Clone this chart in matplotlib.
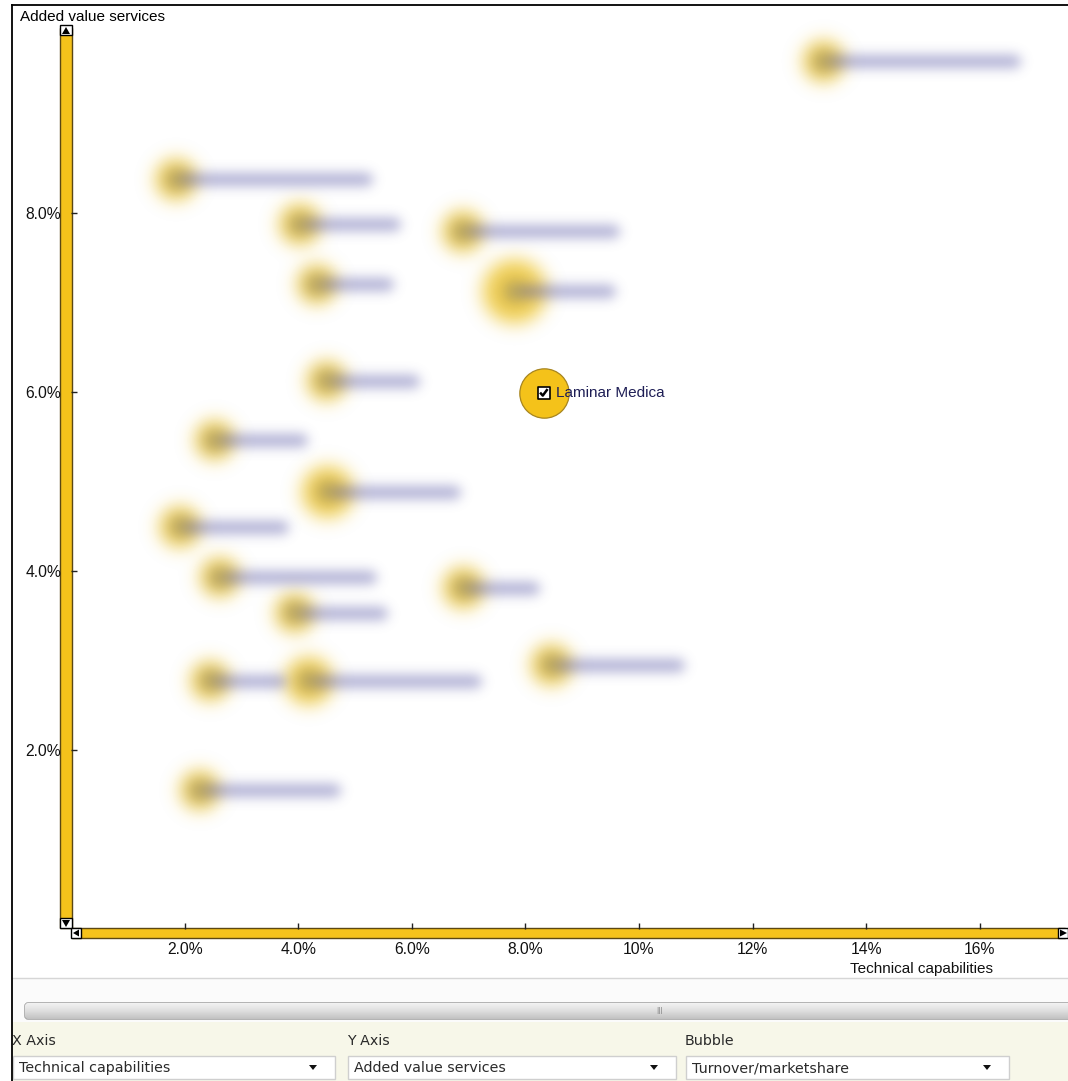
import numpy as np
import matplotlib
matplotlib.use("Agg")
import matplotlib.pyplot as plt
from matplotlib.patches import Rectangle, FancyBboxPatch, Polygon
from matplotlib.collections import LineCollection
from matplotlib.colors import LinearSegmentedColormap

# ---------------- data ----------------
tech_capabilities = [13.25, 1.85, 4.03, 6.90, 4.33, 7.81, 8.32, 4.50, 2.53,
                     4.52, 1.92, 2.62, 6.91, 3.94, 8.46, 2.45, 4.19, 2.27]
added_value = [9.69, 8.37, 7.87, 7.79, 7.20, 7.12, 5.99, 6.12, 5.46,
               4.88, 4.49, 3.93, 3.81, 3.53, 2.95, 2.77, 2.77, 1.55]
turnover = [1.1, 1.1, 1.1, 1.1, 1.0, 2.7, 1.6, 1.0, 1.0,
            1.75, 1.1, 1.0, 1.1, 1.0, 1.1, 1.0, 1.5, 1.0]
company_names = [None, None, None, None, None, None, "Laminar Medica", None, None,
                 None, None, None, None, None, None, None, None, None]
hidden_name_len = [23, 23, 11, 18, 8, 11, 14, 10, 10,
                   15, 12, 18, 8, 10, 15, 8, 20, 16]
x_ticks = [2, 4, 6, 8, 10, 12, 14, 16]
x_tick_labels = ["2.0%", "4.0%", "6.0%", "8.0%", "10%", "12%", "14%", "16%"]
y_ticks = [2, 4, 6, 8]
y_tick_labels = ["2.0%", "4.0%", "6.0%", "8.0%"]
x_axis_title = "Technical capabilities"
y_axis_title = "Added value services"
bubble_title = "Turnover/marketshare"

# ---------------- helpers ----------------
def make_blur(sigma):
    def filt(im, dpi):
        pad = int(np.ceil(3 * sigma))
        im = np.pad(im, ((pad, pad), (pad, pad), (0, 0)))
        a = im[..., 3:4]
        pm = np.concatenate([im[..., :3] * a, a], axis=-1)
        offs = np.arange(-pad, pad + 1)
        k = np.exp(-0.5 * (offs / sigma) ** 2)
        k /= k.sum()
        for axis in (0, 1):
            out = np.zeros_like(pm)
            for o, w in zip(offs, k):
                out += w * np.roll(pm, o, axis=axis)
            pm = out
        alpha = np.clip(pm[..., 3:4], 0, 1)
        rgb = np.where(alpha > 1e-6, pm[..., :3] / np.maximum(alpha, 1e-6), 1.0)
        res = np.concatenate([np.clip(rgb, 0, 1), alpha], axis=-1)
        return res, -pad, -pad
    return filt

W, H = 1068, 1081
fig = plt.figure(figsize=(W / 100, H / 100), dpi=100)
fig.patch.set_facecolor("white")

# ---------------- background / UI layer (pixel coords) ----------------
bg = fig.add_axes([0, 0, 1, 1], zorder=0)
bg.set_xlim(0, W)
bg.set_ylim(H, 0)
bg.axis("off")

bg.add_patch(Rectangle((12, 979), W - 12, 44, facecolor="#fbfbfb", edgecolor="none"))
bg.plot([12, W], [978, 978], color="#d6d6d6", lw=1)
bg.add_patch(Rectangle((12, 1022), W - 12, H - 1022, facecolor="#F7F7E9", edgecolor="none"))

# scrollbar
sb = FancyBboxPatch((25, 1003), 1060, 16, boxstyle="round,pad=0,rounding_size=3",
                    facecolor="#dcdcdc", edgecolor="#969696", lw=1)
bg.add_patch(sb)
grad = np.linspace(0, 1, 30).reshape(-1, 1)
cm = LinearSegmentedColormap.from_list("sb", ["#f2f2f2", "#dedede", "#c2c2c2"])
im = bg.imshow(grad, extent=[25, 1085, 1019, 1003], aspect="auto", cmap=cm, zorder=2)
im.set_clip_path(sb)
bg.text(660, 1012, "III", fontsize=5.5, color="#8a8a8a", ha="center", va="center",
        family="DejaVu Sans", zorder=3)

# borders
bg.plot([12, 12], [5, H], color="black", lw=1.3, zorder=5)
bg.plot([12, W], [5, 5], color="black", lw=1.3, zorder=5)

# combo boxes
ui_font = "DejaVu Sans"
combo = [(13, 335, "X Axis", x_axis_title), (348, 676, "Y Axis", y_axis_title),
         (686, 1009, "Bubble", bubble_title)]
for x0, x1, lab, val in combo:
    bg.text(x0 - 1, 1041, lab, fontsize=10.3, color="#2a2a2a", va="center", ha="left",
            family=ui_font)
    bg.add_patch(Rectangle((x0, 1056), x1 - x0, 23, facecolor="white",
                           edgecolor="#cfcfcf", lw=1))
    bg.text(x0 + 6, 1068, val, fontsize=10.3, color="#2a2a2a", va="center", ha="left",
            family=ui_font)
    cx = x1 - 22
    bg.add_patch(Polygon([(cx - 4, 1065), (cx + 4, 1065), (cx, 1070)],
                         closed=True, facecolor="#111111", edgecolor="none"))

# yellow axis bars
bar_face = "#F5C21B"
bar_edge = "#5b4713"
bg.add_patch(Rectangle((60, 28), 12, 900, facecolor=bar_face, edgecolor=bar_edge, lw=1, zorder=3))
bg.add_patch(Rectangle((72, 928), 993, 10, facecolor=bar_face, edgecolor=bar_edge, lw=1, zorder=3))
for (rx, ry, rw, rh, tri) in [
        (60, 25, 12, 10, [(62, 34), (70, 34), (66, 27)]),
        (60, 918, 12, 10, [(62, 920), (70, 920), (66, 927)]),
        (71, 928, 10, 10, [(79, 929.5), (79, 936.5), (73, 933)]),
        (1058, 928, 10, 10, [(1060, 929.5), (1060, 936.5), (1067, 933)])]:
    bg.add_patch(Rectangle((rx, ry), rw, rh, facecolor="white", edgecolor="black", lw=1, zorder=4))
    bg.add_patch(Polygon(tri, closed=True, facecolor="black", edgecolor="none", zorder=5))

lab_font = "Liberation Sans"
bg.text(20, 17, y_axis_title, fontsize=11, family=lab_font, color="black",
        ha="left", va="center")
bg.text(850, 969, x_axis_title, fontsize=11, family=lab_font, color="#111111",
        ha="left", va="center")

# ---------------- data axes ----------------
ax = fig.add_axes([71 / W, 1 - 929 / H, (1065 - 71) / W, (929 - 29) / H], zorder=2)
ax.patch.set_alpha(0)
ax.set_xlim(0, 17.5)
ax.set_ylim(0, 10.05)
for s in ax.spines.values():
    s.set_visible(False)
ax.set_xticks(x_ticks)
ax.set_xticklabels(x_tick_labels)
ax.set_yticks(y_ticks)
ax.set_yticklabels(y_tick_labels)
ax.tick_params(axis="x", direction="in", length=4.5, width=1, color="#222222",
               pad=9.2, labelsize=11.3)
ax.tick_params(axis="y", direction="in", length=4.5, width=1, color="#222222",
               pad=7.0, labelsize=11.3)
for t in ax.get_xticklabels() + ax.get_yticklabels():
    t.set_family(lab_font)
    t.set_color("#111111")

p0 = ax.transData.transform((0, 0))
p1 = ax.transData.transform((1, 1))
px_per_x = p1[0] - p0[0]
px_per_y = p1[1] - p0[1]

base_r_px = 19.5
pt = 72.0 / 100.0
hid = [i for i, n in enumerate(company_names) if n is None]
sel = [i for i, n in enumerate(company_names) if n is not None]

hx = np.array([tech_capabilities[i] for i in hid])
hy = np.array([added_value[i] for i in hid])
hs = np.array([(2 * base_r_px * np.sqrt(turnover[i]) * pt) ** 2 for i in hid])

bub = ax.scatter(hx, hy, s=hs, color="#EFC630", alpha=0.85, edgecolors="none",
                 zorder=3, clip_on=False)
bub.set_agg_filter(make_blur(6.5))

segs = []
for i in hid:
    x0 = tech_capabilities[i] + 10 / px_per_x
    x1 = tech_capabilities[i] + (6 + hidden_name_len[i] * 8.0) / px_per_x
    segs.append([(x0, added_value[i]), (x1, added_value[i])])
lc = LineCollection(segs, colors=[(0.40, 0.40, 0.68, 0.52)], linewidths=13 * pt,
                    capstyle="round", zorder=4)
lc.set_agg_filter(make_blur(6.0))
ax.add_collection(lc)

cb = ax.scatter(hx, hy, s=(15 * pt) ** 2, marker="s", color=(0.42, 0.42, 0.44, 0.8),
                edgecolors="none", zorder=5)
cb.set_agg_filter(make_blur(6.0))

# selected company (not blurred)
for i in sel:
    cx, cy = tech_capabilities[i], added_value[i]
    r = base_r_px * np.sqrt(turnover[i])
    ax.scatter([cx], [cy], s=(2 * r * pt) ** 2,
               color="#F4C21A", edgecolors="#a7851f", linewidths=0.9, zorder=6)
    ax.scatter([cx], [cy], s=(12 * pt) ** 2, marker="s",
               color="white", edgecolors="black", linewidths=1.2, zorder=7)
    ax.plot([cx - 3.5 / px_per_x, cx - 0.8 / px_per_x, cx + 4 / px_per_x],
            [cy, cy - 3 / px_per_y, cy + 3.5 / px_per_y],
            color="black", lw=1.8, zorder=8, solid_capstyle="butt")
    ax.annotate(company_names[i], (cx, cy),
                xytext=(8.6, 0), textcoords="offset points", va="center", ha="left",
                fontsize=11, family=lab_font, color="#1e1e55", zorder=9)

fig.savefig("out.png", dpi=100)
